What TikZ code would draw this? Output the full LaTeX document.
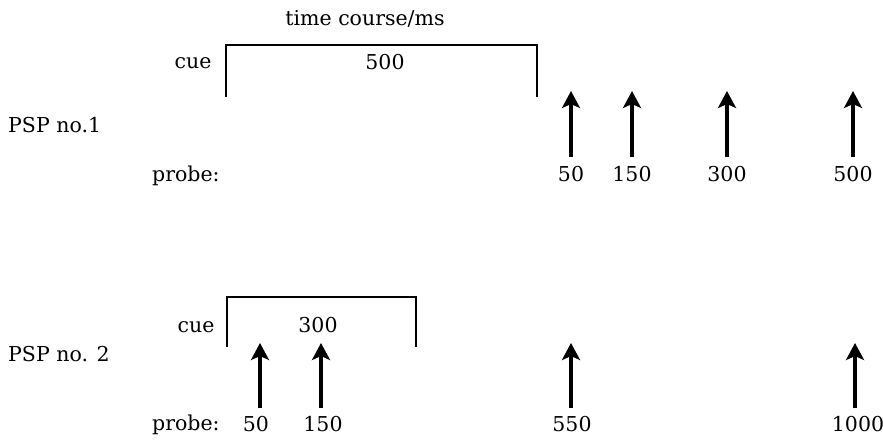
\documentclass[tikz,border=0pt]{standalone}
\usepackage{fontspec}
\setmainfont{DejaVu Serif}
\usetikzlibrary{arrows.meta}
\tikzset{
  txt/.style={anchor=base, inner sep=0pt, font=\fontsize{20.5}{24}\selectfont},
  brk/.style={line width=2.8pt, line join=miter},
  probearrow/.style={line width=3.3pt, -{Stealth[length=17pt,width=18pt,inset=4pt]}}
}
\begin{document}
\begin{tikzpicture}[x=1pt,y=-1pt]
\useasboundingbox (0,0) rectangle (883,439);
% labels
\node[txt] (title) at (365,25) {time course/ms};
\node[txt,anchor=base west] (psp1) at (8,132) {PSP no.1};
\node[txt,anchor=base west] (psp2) at (8,361) {PSP no. 2};
\node[txt] (cue1) at (193,68) {cue};
\node[txt] (cue2) at (196,332) {cue};
\node[txt] (d500) at (385,69) {500};
\node[txt] (d300) at (318,332) {300};
\node[txt,anchor=base west] (probe1) at (152,181) {probe:};
\node[txt,anchor=base west] (probe2) at (152,430) {probe:};
% bracket 1
\coordinate (b1a) at (226,97);
\coordinate (b1b) at (226,45);
\coordinate (b1c) at (537,45);
\coordinate (b1d) at (537,97);
\draw[brk] (b1a) -- (b1b) -- (b1c) -- (b1d);
% bracket 2
\coordinate (b2a) at (227,347);
\coordinate (b2b) at (227,297);
\coordinate (b2c) at (416,297);
\coordinate (b2d) at (416,347);
\draw[brk] (b2a) -- (b2b) -- (b2c) -- (b2d);
% top row arrows
\foreach \n/\x/\lab in {a/571/50, b/632/150, c/727/300, d/853/500}{
  \coordinate (t\n s) at (\x,157);
  \coordinate (t\n e) at (\x,91);
  \draw[probearrow] (t\n s) -- (t\n e);
  \node[txt] (t\n l) at (\x,181) {\lab};
}
% bottom row arrows
\foreach \n/\x/\lab in {a/260/50, b/321/150, c/571/550, d/855/1000}{
  \coordinate (u\n s) at (\x,408);
  \coordinate (u\n e) at (\x,343);
  \draw[probearrow] (u\n s) -- (u\n e);
}
\node[txt] (ual) at (256,431) {50};
\node[txt] (ubl) at (323,431) {150};
\node[txt] (ucl) at (572,431) {550};
\node[txt] (udl) at (858,431) {1000};
\end{tikzpicture}
\end{document}
